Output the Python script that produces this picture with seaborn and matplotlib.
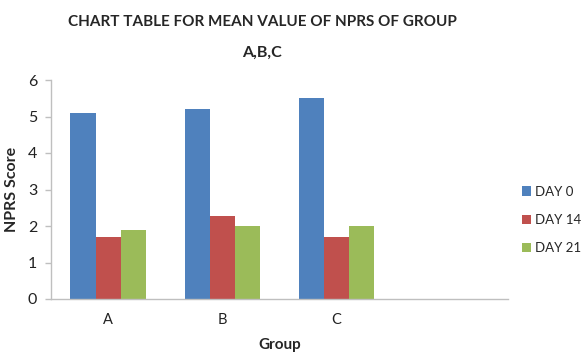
import matplotlib
matplotlib.use("Agg")
import matplotlib.pyplot as plt
import pandas as pd
import seaborn as sns

groups = ["A", "B", "C"]
days = ["DAY 0", "DAY 14", "DAY 21"]
day0 = [5.1, 5.2, 5.5]
day14 = [1.7, 2.28, 1.7]
day21 = [1.9, 2.0, 2.0]
palette = ["#4F81BD", "#C0504D", "#9BBB59"]

df = pd.DataFrame({
    "group": groups * 3,
    "day": [d for d in days for _ in groups],
    "score": day0 + day14 + day21,
})

sns.set_style("white")
plt.rcParams["font.family"] = ["Lato", "DejaVu Sans"]

fig = plt.figure(figsize=(5.86, 3.58), dpi=100)
ax = fig.add_axes([51 / 586, 1 - 299 / 358, 457 / 586, 219 / 358])

sns.barplot(df, x="group", y="score", hue="day", order=groups,
            hue_order=days, palette=palette, width=0.66, gap=0,
            saturation=1, edgecolor="none", linewidth=0, ax=ax)

# leave room for an empty fourth slot, as in the original chart
ax.set_xlim(-0.5, 3.5)
ax.set_ylim(0, 6)
ax.set_yticks(range(0, 7))
for side in ["top", "right"]:
    ax.spines[side].set_visible(False)
for side in ["left", "bottom"]:
    ax.spines[side].set_color("#BFBFBF")
    ax.spines[side].set_linewidth(1)
ax.tick_params(axis="y", length=4, width=1, color="#BFBFBF", pad=6,
               labelsize=11.5, labelcolor="#222222", left=True)
ax.tick_params(axis="x", length=0, pad=10, labelsize=10.5, labelcolor="#222222")

ax.set_xlabel("Group", fontsize=11, fontweight="bold", labelpad=8)
ax.set_ylabel("NPRS Score", fontsize=11.5, fontweight="bold", labelpad=6)

fig.text(262 / 586, 1 - 22 / 358, "CHART TABLE FOR MEAN VALUE OF NPRS OF GROUP",
         ha="center", va="center", fontsize=11, fontweight="bold")
fig.text(262 / 586, 1 - 53 / 358, "A,B,C",
         ha="center", va="center", fontsize=11.5, fontweight="bold")

ax.legend(title=None, frameon=False, fontsize=9.5, loc="center left",
          bbox_to_anchor=(522 / 586, 1 - 220 / 358),
          bbox_transform=fig.transFigure, handlelength=0.7,
          handleheight=0.7, handletextpad=0.3, labelspacing=1.25,
          borderaxespad=0, borderpad=0)

fig.savefig("out.png", dpi=100)
